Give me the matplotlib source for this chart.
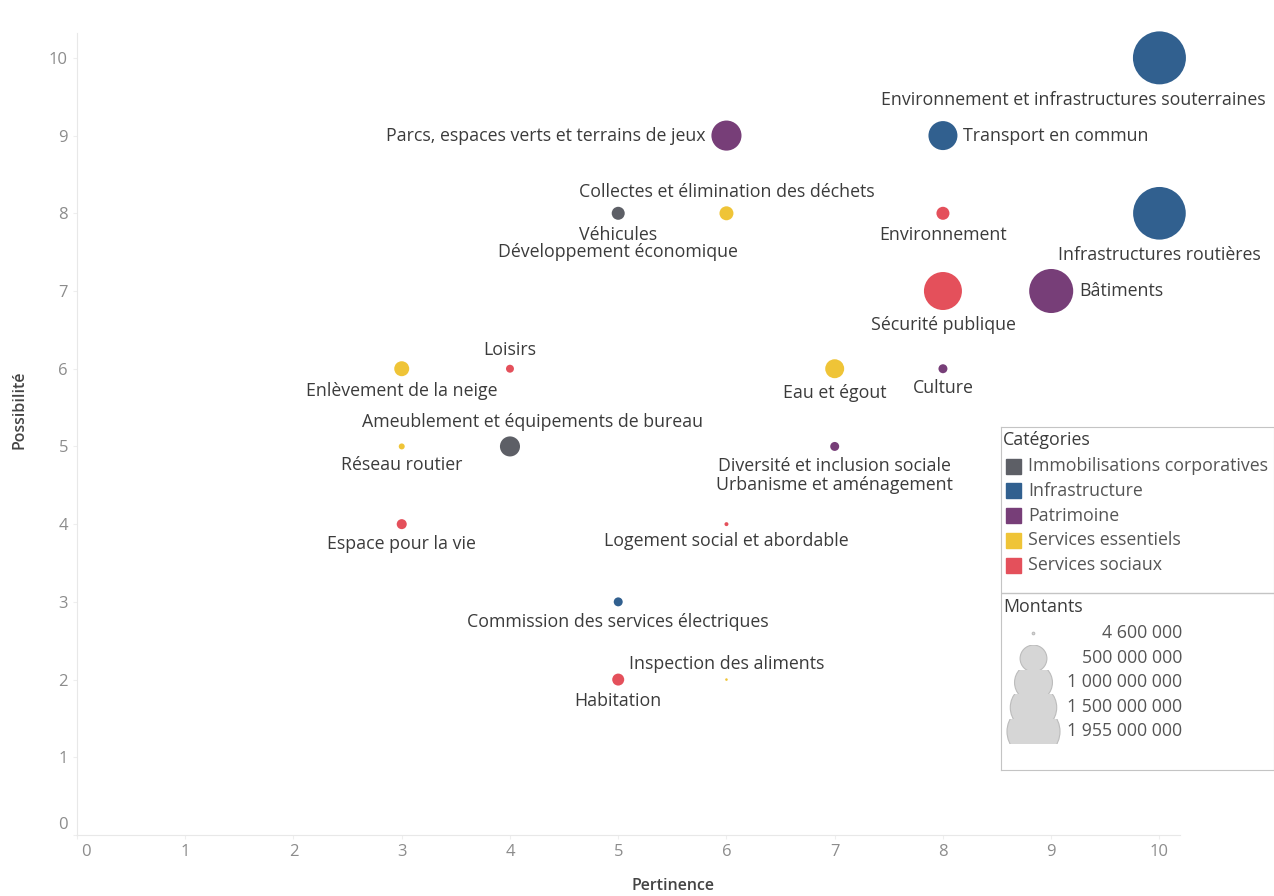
import numpy as np
import matplotlib.pyplot as plt
import matplotlib.transforms as mtransforms
from matplotlib.patches import Rectangle

plt.rcParams['font.family'] = ['Open Sans', 'DejaVu Sans']

# data
names = ['Environnement et infrastructures souterraines', 'Transport en commun',
         'Infrastructures routières', 'Environnement', 'Bâtiments', 'Sécurité publique',
         'Parcs, espaces verts et terrains de jeux', 'Développement économique', 'Véhicules',
         'Collectes et élimination des déchets', 'Enlèvement de la neige', 'Loisirs',
         'Eau et égout', 'Culture', 'Ameublement et équipements de bureau', 'Réseau routier',
         'Diversité et inclusion sociale', 'Urbanisme et aménagement', 'Espace pour la vie',
         'Logement social et abordable', 'Commission des services électriques',
         'Inspection des aliments', 'Habitation']
pertinence = [10, 8, 10, 8, 9, 8, 6, 5, 5, 6, 3, 4, 7, 8, 4, 3, 7, 7, 3, 6, 5, 6, 5]
possibilite = [10, 9, 8, 8, 7, 7, 9, 8, 8, 8, 6, 6, 6, 6, 5, 5, 5, 5, 4, 4, 3, 2, 2]
categorie = ['Infrastructure', 'Infrastructure', 'Infrastructure', 'Services sociaux', 'Patrimoine',
             'Services sociaux', 'Patrimoine', 'Services essentiels', 'Immobilisations corporatives',
             'Services essentiels', 'Services essentiels', 'Services sociaux', 'Services essentiels',
             'Patrimoine', 'Immobilisations corporatives', 'Services essentiels', 'Patrimoine',
             'Patrimoine', 'Services sociaux', 'Services sociaux', 'Infrastructure',
             'Services essentiels', 'Services sociaux']
montants = [1955e6, 585e6, 1930e6, 118e6, 1350e6, 1005e6, 630e6, 20e6, 118e6, 136e6, 156e6,
            44e6, 250e6, 56e6, 280e6, 25e6, 56e6, 20e6, 70e6, 11e6, 56e6, 4.6e6, 100e6]
# where each label sits relative to its bubble
placement = ['below', 'right', 'below', 'below', 'right', 'below', 'left', 'below2', 'below',
             'above', 'below', 'above', 'below', 'below', 'above', 'below', 'below', 'below2',
             'below', 'below', 'below', 'above', 'below']

cat_names = ['Immobilisations corporatives', 'Infrastructure', 'Patrimoine',
             'Services essentiels', 'Services sociaux']
cat_colors = ['#5d5f66', '#31608f', '#773e78', '#efc437', '#e4505b']
legend_sizes = [4.6e6, 500e6, 1000e6, 1500e6, 1955e6]
legend_labels = ['4 600 000', '500 000 000', '1 000 000 000', '1 500 000 000', '1 955 000 000']

max_d_px = 53
def size_pts(v):
    return np.asarray(v) / 1955e6 * (max_d_px * 0.72) ** 2

color_map = dict(zip(cat_names, cat_colors))
txt = '#3b3b3b'
fs = 12.8

fig = plt.figure(figsize=(12.74, 8.96), dpi=100)
W, H = 1274, 896
ax = fig.add_axes([77 / W, 1 - 835 / H, 1103 / W, 802 / H])
ax.set_xlim(0, 10.19)
ax.set_ylim(0, 10.32)

s = size_pts(montants)
cols = [color_map[c] for c in categorie]
ax.scatter(pertinence, possibilite, s=s, c=cols, clip_on=False, zorder=3, linewidths=0)

for i, n in enumerate(names):
    r = np.sqrt(s[i]) / 2  # radius in points
    p = placement[i]
    dx, dy, ha, va = 0, 0, 'center', 'center'
    if p == 'below':
        dy, va = -(r + 4.5), 'top'
    elif p == 'below2':
        dy, va = -(r + 4.5 + 15), 'top'
    elif p == 'above':
        dy, va = r + 4, 'bottom'
    elif p == 'right':
        dx, ha = r + 4, 'left'
    elif p == 'left':
        dx, ha = -(r + 4), 'right'
    if n.startswith('Environnement et'):
        dx = -62
    if n.startswith('Ameublement'):
        dx = 16
    ax.annotate(n, (pertinence[i], possibilite[i]), xytext=(dx, dy), textcoords='offset points',
                ha=ha, va=va, fontsize=fs, color=txt, zorder=4)

for sp in ['top', 'right']:
    ax.spines[sp].set_visible(False)
ax.spines['left'].set_color('#e8e8e8')
ax.spines['bottom'].set_color('#e8e8e8')
ax.set_xticks(range(11))
ax.set_yticks(range(11))
ax.tick_params(colors='#eeeeee', labelcolor='#8c8c8c', labelsize=12, length=3)
# nudge the zero labels off the corner, like the original
fig.canvas.draw()
xl0 = ax.get_xticklabels()[0]
xl0.set_transform(xl0.get_transform() + mtransforms.ScaledTranslation(9 / 100, 0, fig.dpi_scale_trans))
yl0 = ax.get_yticklabels()[0]
yl0.set_transform(yl0.get_transform() + mtransforms.ScaledTranslation(0, 12 / 100, fig.dpi_scale_trans))

ax.set_xlabel('Pertinence', fontsize=11.5, color='#444444', fontweight='semibold')
ax.set_ylabel('Possibilité', fontsize=11.5, color='#444444', fontweight='semibold')
ax.xaxis.set_label_coords(0.54, -0.054)
ax.yaxis.set_label_coords(-0.045, 0.53)

# legend panel
lax = fig.add_axes([1001 / W, 1 - 770 / H, 273 / W, 343 / H])
lax.set_xlim(1001, 1274)
lax.set_ylim(770, 427)
lax.set_xticks([])
lax.set_yticks([])
for sp in lax.spines.values():
    sp.set_color('#c4c4c4')
lax.axhline(593, color='#c4c4c4', lw=1)

lax.text(1003, 440, 'Catégories', fontsize=fs, color=txt, va='center')
for k, (c, col) in enumerate(zip(cat_names, cat_colors)):
    y = 466 + k * 24.8
    lax.add_patch(Rectangle((1006, y - 7.5), 15, 15, color=col))
    lax.text(1028, y, c, fontsize=fs, color='#555555', va='center')

lax.text(1003, 607, 'Montants', fontsize=fs, color=txt, va='center')
for k, (v, lab) in enumerate(zip(legend_sizes, legend_labels)):
    y = 633 + k * 24.5
    sc = lax.scatter([1033], [y], s=size_pts([v]), color='#d6d6d6', edgecolor='#bcbcbc',
                     linewidths=0.8, zorder=2)
    band = Rectangle((1001, y - 12.25), 273, 24.5, transform=lax.transData)
    sc.set_clip_path(band)
    lax.text(1182, y, lab, fontsize=fs, color='#555555', va='center', ha='right')

fig.savefig('out.png', dpi=100)
